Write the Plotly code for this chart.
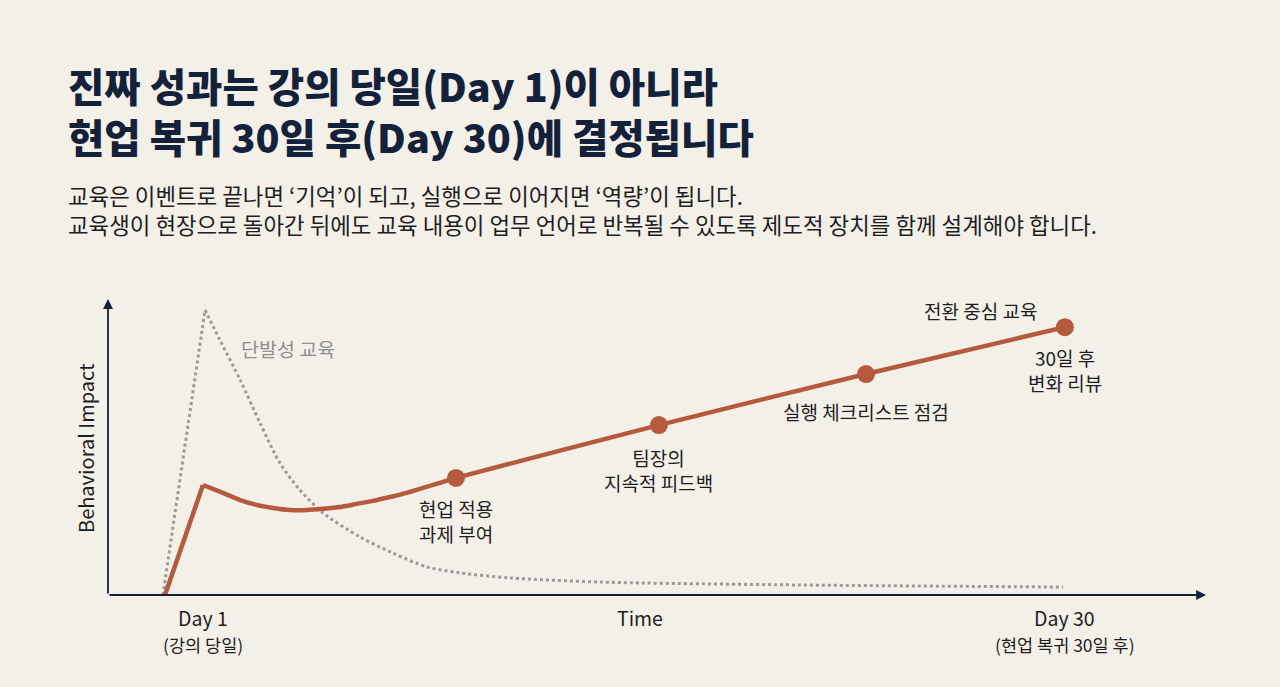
import plotly.graph_objects as go

# ---------------- data ----------------
# x: days (Day 1 = lecture day, Day 30 = 30 days after return), y: behavioral impact (arbitrary units)
transfer_x = [-0.28, 1.0, 1.67, 2.25, 2.82, 3.36, 3.93, 4.50, 5.04, 5.61, 6.18, 6.72, 7.29, 7.86, 8.40, 8.97,
              9.51, 16.34, 23.31, 30.0]
transfer_y = [0.0, 37.3, 34.6, 32.2, 30.5, 29.5, 28.8, 28.8, 29.2, 29.8, 30.9, 31.9, 33.2, 34.6, 36.3, 38.0,
              39.7, 57.6, 74.9, 90.8]

milestone_x = [9.51, 16.34, 23.31, 30.0]
milestone_y = [39.7, 57.6, 74.9, 90.8]
milestone_labels = ["현업 적용<br>과제 부여", "팀장의<br>지속적 피드백", "실행 체크리스트 점검", "30일 후<br>변화 리뷰"]

oneoff_x = [-0.35, 1.07, 1.57, 2.25, 2.92, 3.59, 4.26, 5.04, 6.28, 7.39, 8.54, 9.65, 11.33, 14.36, 21.1, 29.94]
oneoff_y = [0.0, 96.6, 86.4, 72.9, 58.3, 44.7, 35.6, 27.8, 19.7, 14.2, 9.5, 7.5, 5.8, 4.4, 3.4, 2.7]

tick_days = [1, 30]
tick_main = ["Day 1", "Day 30"]
tick_sub = ["(강의 당일)", "(현업 복귀 30일 후)"]

title_lines = ["진짜 성과는 강의 당일(Day 1)이 아니라", "현업 복귀 30일 후(Day 30)에 결정됩니다"]
subtitle_lines = ["교육은 이벤트로 끝나면 ‘기억’이 되고, 실행으로 이어지면 ‘역량’이 됩니다.",
                  "교육생이 현장으로 돌아간 뒤에도 교육 내용이 업무 언어로 반복될 수 있도록 제도적 장치를 함께 설계해야 합니다."]

# ---------------- style ----------------
W, H = 1280, 687
BG = "#F3F0E8"
NAVY = "#14213A"
ORANGE = "#B55A3C"
GRAY = "#9A9A9A"
TXT = "#1E1E1E"
FONT = "Noto Sans CJK KR"

# mapping so that data space lines up with the page
PX_DAY1, PX_PER_DAY = 203.0, 29.72
PY_BASE, PX_PER_UNIT = 595.0, 2.95
x_range = [1 + (0 - PX_DAY1) / PX_PER_DAY, 1 + (W - PX_DAY1) / PX_PER_DAY]
y_range = [(PY_BASE - H) / PX_PER_UNIT, PY_BASE / PX_PER_UNIT]


def dx(px):
    return 1 + (px - PX_DAY1) / PX_PER_DAY


def dy(py):
    return (PY_BASE - py) / PX_PER_UNIT


fig = go.Figure()

# one-off training: straight rise, smooth decay
fig.add_trace(go.Scatter(x=oneoff_x[:2], y=oneoff_y[:2], mode="lines",
                         line=dict(color=GRAY, width=3, dash="dot"),
                         hoverinfo="skip", showlegend=False))
fig.add_trace(go.Scatter(x=oneoff_x[1:], y=oneoff_y[1:], mode="lines",
                         line=dict(color=GRAY, width=3, dash="dot", shape="spline", smoothing=0.8),
                         hoverinfo="skip", showlegend=False))
# transfer-focused training
fig.add_trace(go.Scatter(x=transfer_x[:2], y=transfer_y[:2], mode="lines",
                         line=dict(color=ORANGE, width=4.5),
                         hoverinfo="skip", showlegend=False))
fig.add_trace(go.Scatter(x=transfer_x[1:], y=transfer_y[1:], mode="lines",
                         line=dict(color=ORANGE, width=4.5, shape="spline", smoothing=0.6),
                         hoverinfo="skip", showlegend=False))
fig.add_trace(go.Scatter(x=milestone_x, y=milestone_y, mode="markers",
                         marker=dict(color=ORANGE, size=18),
                         hoverinfo="skip", showlegend=False))

ann = []
# axes with arrows
axis_x0 = dx(108)
ann.append(dict(x=axis_x0, y=dy(299), ax=axis_x0, ay=0, xref="x", yref="y", axref="x", ayref="y",
                text="", showarrow=True, arrowhead=2, arrowsize=1.1, arrowwidth=1.8, arrowcolor=NAVY))
ann.append(dict(x=dx(1206), y=0, ax=axis_x0, ay=0, xref="x", yref="y", axref="x", ayref="y",
                text="", showarrow=True, arrowhead=2, arrowsize=1.1, arrowwidth=1.8, arrowcolor=NAVY))

# milestone labels
label_pos = [(milestone_x[0], dy(521)), (milestone_x[1], dy(470)), (milestone_x[2], dy(411)), (milestone_x[3], dy(370))]
for (lx, ly), t in zip(label_pos, milestone_labels):
    ann.append(dict(x=lx, y=ly, xref="x", yref="y", text=t, showarrow=False,
                    font=dict(family=FONT, size=19, color=TXT), align="center"))
ann.append(dict(x=dx(980), y=dy(310), xref="x", yref="y", text="전환 중심 교육", showarrow=False,
                font=dict(family=FONT, size=19, color=TXT)))
ann.append(dict(x=dx(288), y=dy(348), xref="x", yref="y", text="단발성 교육", showarrow=False,
                font=dict(family=FONT, size=19.5, color="#8E8E8E")))

# axis texts
for d, t, s in zip(tick_days, tick_main, tick_sub):
    ann.append(dict(x=d, y=dy(617), xref="x", yref="y", text=t, showarrow=False,
                    font=dict(family=FONT, size=19.5, color=TXT)))
    ann.append(dict(x=d, y=dy(644), xref="x", yref="y", text=s, showarrow=False,
                    font=dict(family=FONT, size=17.5, color=TXT)))
ann.append(dict(x=dx(640), y=dy(617), xref="x", yref="y", text="Time", showarrow=False,
                font=dict(family=FONT, size=19.5, color=TXT)))
ann.append(dict(x=dx(85), y=dy(448), xref="x", yref="y", text="Behavioral Impact", showarrow=False,
                textangle=-90, font=dict(family=FONT, size=20, color=TXT)))

# title & subtitle
ann.append(dict(x=66 / W, y=1 - 110 / H, xref="paper", yref="paper", text="<br>".join(title_lines),
                showarrow=False, xanchor="left", yanchor="middle", align="left",
                font=dict(family=FONT, size=39.5, color=NAVY, weight=900)))
ann.append(dict(x=66 / W, y=1 - 209.5 / H, xref="paper", yref="paper", text="<br>".join(subtitle_lines),
                showarrow=False, xanchor="left", yanchor="middle", align="left",
                font=dict(family=FONT, size=22.4, color=TXT)))

fig.update_layout(
    width=W, height=H,
    margin=dict(l=0, r=0, t=0, b=0),
    paper_bgcolor=BG, plot_bgcolor=BG,
    xaxis=dict(range=x_range, visible=False, fixedrange=True),
    yaxis=dict(range=y_range, visible=False, fixedrange=True),
    annotations=ann,
    showlegend=False,
)

fig.write_html("out.html", config={"displayModeBar": False},
               post_script="document.body.style.margin='0';document.body.style.background='%s';" % BG)
